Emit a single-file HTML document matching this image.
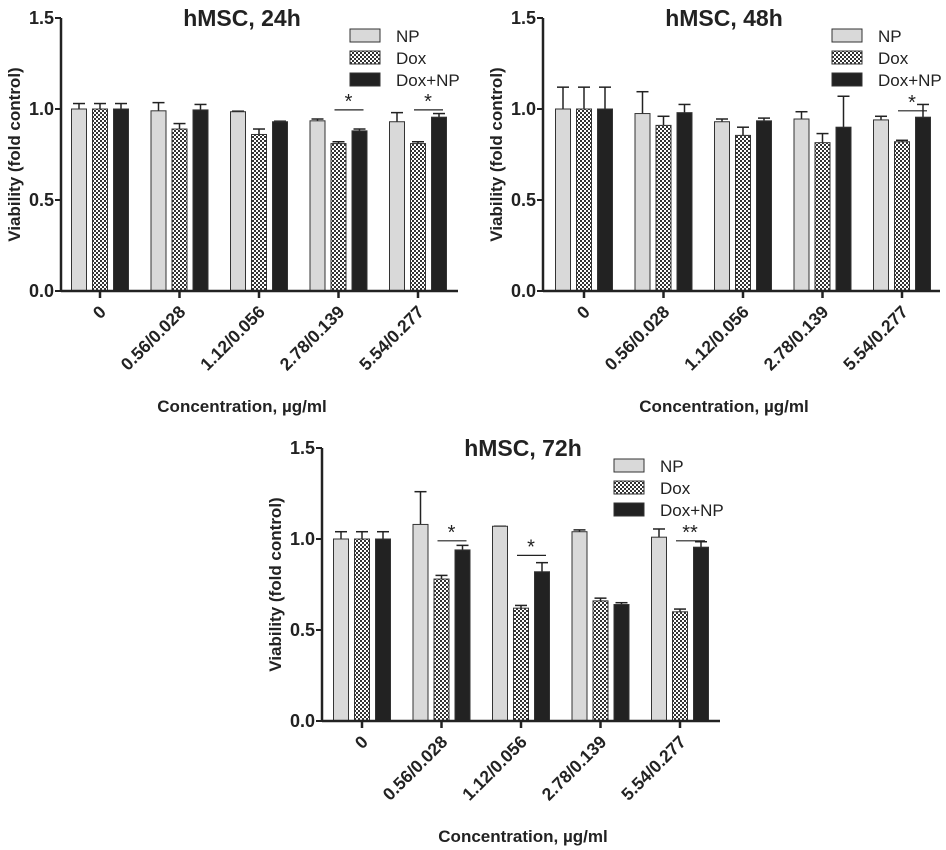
<!DOCTYPE html>
<html><head><meta charset="utf-8"><style>
body{margin:0;background:#fff;}
svg{display:block;font-family:"Liberation Sans",Arial,sans-serif;}
</style></head><body>
<svg id="fig" width="946" height="850" viewBox="0 0 946 850">
<defs>
<pattern id="chk" width="4" height="4" patternUnits="userSpaceOnUse">
<rect width="4" height="4" fill="#fff"/><rect width="2" height="2" fill="#333"/><rect x="2" y="2" width="2" height="2" fill="#333"/>
</pattern>
</defs>
</svg>
<script>
const categories=["0","0.56/0.028","1.12/0.056","2.78/0.139","5.54/0.277"];
const seriesNames=["NP","Dox","Dox+NP"];
const yTicks=[0,0.5,1.0,1.5];
const np24=[1.0,0.99,0.985,0.935,0.93], np24e=[0.03,0.045,0.003,0.01,0.05];
const dox24=[1.0,0.89,0.86,0.81,0.81], dox24e=[0.03,0.03,0.03,0.01,0.01];
const dnp24=[1.0,0.995,0.93,0.88,0.955], dnp24e=[0.03,0.03,0.003,0.01,0.02];
const np48=[1.0,0.975,0.93,0.945,0.94], np48e=[0.12,0.12,0.015,0.04,0.02];
const dox48=[1.0,0.91,0.855,0.815,0.82], dox48e=[0.12,0.05,0.045,0.05,0.008];
const dnp48=[1.0,0.98,0.935,0.9,0.955], dnp48e=[0.12,0.045,0.015,0.17,0.07];
const np72=[1.0,1.08,1.07,1.04,1.01], np72e=[0.04,0.18,0.0,0.01,0.045];
const dox72=[1.0,0.78,0.62,0.66,0.6], dox72e=[0.04,0.02,0.015,0.015,0.015];
const dnp72=[1.0,0.94,0.82,0.64,0.955], dnp72e=[0.04,0.025,0.05,0.01,0.03];
const sig24=[{g:3,y:0.995,t:"*"},{g:4,y:0.995,t:"*"}];
const sig48=[{g:4,y:0.99,t:"*"}];
const sig72=[{g:1,y:0.99,t:"*"},{g:2,y:0.91,t:"*"},{g:4,y:0.99,t:"**"}];

const NS="http://www.w3.org/2000/svg";
const svg=document.getElementById('fig');
function mk(tag,attrs,parent){const e=document.createElementNS(NS,tag);for(const k in attrs)e.setAttribute(k,attrs[k]);(parent||svg).appendChild(e);return e;}

function chart(o){
  const g=mk('g',{});
  
  
  const y=v=>o.y0-(o.y0-o.y15)*v/1.5;
  const x=i=>o.gx0+i*o.gs;
  const fills=["#d9d9d9","url(#chk)","#222"];
  const vals=[o.np,o.dox,o.dnp], errs=[o.npe,o.doxe,o.dnpe];
  const bw=15, off=[-21,0,21];
  for(let s=0;s<3;s++){for(let i=0;i<categories.length;i++){
    const cx=x(i)+off[s], v=vals[s][i], e=errs[s][i];
    const ln=mk('line',{x1:cx,x2:cx,y1:y(v),y2:y(v+e),stroke:'#222','stroke-width':1.5},g);
    
    const cap=mk('line',{x1:cx-6,x2:cx+6,y1:y(v+e),y2:y(v+e),stroke:'#222','stroke-width':1.5},g);
    
    const r=mk('rect',{x:cx-bw/2,y:y(v),width:bw,height:y(0)-y(v),fill:fills[s],stroke:'#333','stroke-width':1},g);
    
    
  }}
  o.sig.forEach(sg=>{
    const l=mk('line',{x1:x(sg.g)+off[1]-4,x2:x(sg.g)+off[2]+4,y1:y(sg.y),y2:y(sg.y),stroke:'#222','stroke-width':1.2},g);
    
    const t=mk('text',{x:x(sg.g)+10,y:y(sg.y)-2,'font-size':20,'text-anchor':'middle',fill:'#222'},g);
    t.textContent=sg.t;
  });
  const ya=mk('line',{x1:o.ax,x2:o.ax,y1:o.y15,y2:o.y0,stroke:'#222','stroke-width':2.5},g);
  
  const xa=mk('line',{x1:o.ax,x2:o.axEnd,y1:o.y0,y2:o.y0,stroke:'#222','stroke-width':2.5},g);
  
  yTicks.forEach(v=>{
    mk('line',{x1:o.ax-6,x2:o.ax,y1:y(v),y2:y(v),stroke:'#222','stroke-width':2},g);
    const t=mk('text',{x:o.ax-7,y:y(v)+6,'font-size':18,'font-weight':'bold','text-anchor':'end',fill:'#222'},g);
    t.textContent=v.toFixed(1);
  });
  categories.forEach((c,i)=>{
    mk('line',{x1:x(i),x2:x(i),y1:o.y0,y2:o.y0+7,stroke:'#222','stroke-width':2.5},g);
    const t=mk('text',{x:x(i)+7,y:o.y0+22,'font-size':17.5,'font-weight':'bold','text-anchor':'end',fill:'#222',transform:`rotate(-45 ${x(i)+7} ${o.y0+22})`},g);
    t.textContent=c;
  });
  const tt=mk('text',{x:o.titleX,y:o.y15+8,'font-size':23,'font-weight':'bold','text-anchor':'middle',fill:'#222'},g);
  tt.textContent=o.title;
  const yl=mk('text',{x:0,y:0,'font-size':17,'font-weight':'bold','text-anchor':'middle',fill:'#222',transform:`translate(${o.ax-41},${(o.y0+o.y15)/2}) rotate(-90)`},g);
  yl.textContent='Viability (fold control)';
  const xl=mk('text',{x:o.titleX,y:o.y0+121,'font-size':17,'font-weight':'bold','text-anchor':'middle',fill:'#222'},g);
  xl.textContent='Concentration, µg/ml';
  seriesNames.forEach((n,s)=>{
    const ly=o.legY+s*22;
    const r=mk('rect',{x:o.legX,y:ly-7,width:30,height:13,fill:fills[s],stroke:'#333','stroke-width':1},g);
    
    const t=mk('text',{x:o.legX+46,y:ly+6,'font-size':17,fill:'#222'},g);
    t.textContent=n;
  });
}
chart({name:'chart-24h',title:'hMSC, 24h',ax:61,axEnd:458,y0:291,y15:18,gx0:100,gs:79.5,titleX:242,legX:350,legY:36,np:np24,npe:np24e,dox:dox24,doxe:dox24e,dnp:dnp24,dnpe:dnp24e,sig:sig24});
chart({name:'chart-48h',title:'hMSC, 48h',ax:543,axEnd:940,y0:291,y15:18,gx0:584,gs:79.5,titleX:724,legX:832,legY:36,np:np48,npe:np48e,dox:dox48,doxe:dox48e,dnp:dnp48,dnpe:dnp48e,sig:sig48});
chart({name:'chart-72h',title:'hMSC, 72h',ax:322,axEnd:720,y0:721,y15:448,gx0:362,gs:79.5,titleX:523,legX:614,legY:466,np:np72,npe:np72e,dox:dox72,doxe:dox72e,dnp:dnp72,dnpe:dnp72e,sig:sig72});
</script>
</body></html>
